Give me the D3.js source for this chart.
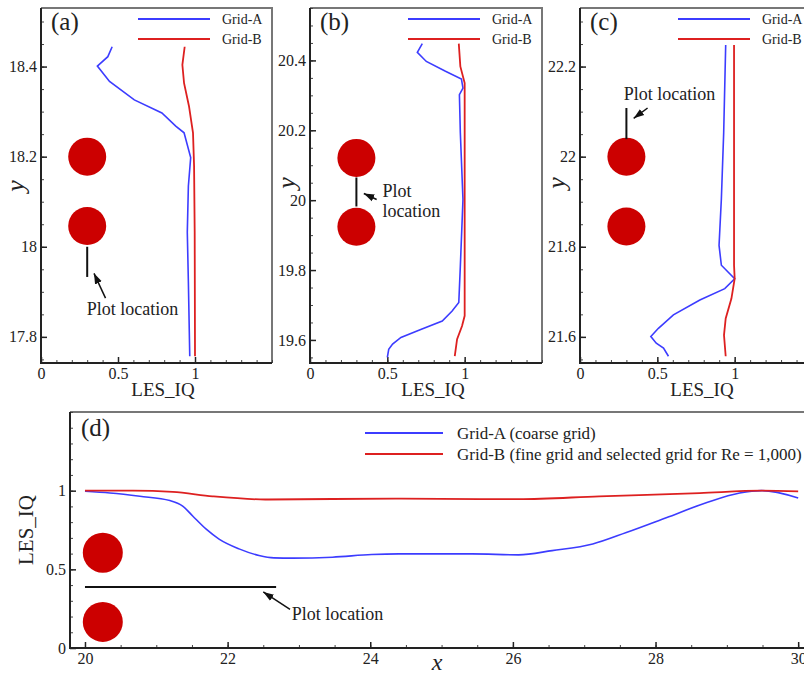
<!DOCTYPE html>
<html><head><meta charset="utf-8">
<script src="https://cdn.jsdelivr.net/npm/d3@7"></script>
<style>html,body{margin:0;padding:0;background:#fff}svg{display:block}text{font-family:"Liberation Serif","Times New Roman",serif;fill:#222}</style>
</head><body><svg id="c" width="804" height="677"></svg>
<script>
// ---------- data ----------
const seriesNames = ["Grid-A", "Grid-B"];
const legendD = ["Grid-A (coarse grid)", "Grid-B (fine grid and selected grid for Re = 1,000)"];

// panel (a): [LES_IQ, y]
const aGridA = [[0.462,18.444],[0.434,18.422],[0.366,18.401],[0.445,18.367],[0.606,18.326],[0.785,18.297],[0.875,18.268],[0.929,18.253],[0.972,18.198],[0.957,18.135],[0.950,18.032],[0.957,17.922],[0.966,17.757]];
const aGridB = [[0.933,18.444],[0.918,18.404],[0.929,18.363],[0.961,18.312],[0.987,18.253],[0.994,18.179],[0.998,18.032],[1.0,17.757]];
// panel (b)
const bGridA = [[0.726,20.448],[0.694,20.423],[0.752,20.397],[0.876,20.369],[0.979,20.347],[0.989,20.321],[0.966,20.302],[0.972,20.193],[0.989,20.002],[0.972,19.811],[0.962,19.707],[0.919,19.683],[0.855,19.654],[0.716,19.630],[0.588,19.607],[0.534,19.588],[0.509,19.573],[0.500,19.550]];
const bGridB = [[0.962,20.448],[0.972,20.383],[1.0,20.335],[1.0,20.0],[1.0,19.669],[0.983,19.640],[0.951,19.602],[0.936,19.554]];
// panel (c)
const cGridA = [[0.942,22.248],[0.929,22.053],[0.914,21.906],[0.899,21.803],[0.914,21.759],[1.0,21.729],[0.936,21.707],[0.775,21.682],[0.604,21.649],[0.507,21.619],[0.458,21.601],[0.493,21.586],[0.540,21.575],[0.572,21.557]];
const cGridB = [[0.996,22.248],[0.996,21.759],[1.0,21.729],[0.979,21.685],[0.942,21.641],[0.931,21.604],[0.942,21.557]];
// panel (d): [x, LES_IQ]
const dGridA = [[20,0.996],[20.35,0.985],[20.77,0.964],[21.19,0.937],[21.37,0.902],[21.51,0.839],[21.70,0.755],[21.88,0.692],[22.16,0.630],[22.44,0.588],[22.65,0.573],[22.91,0.571],[23.47,0.577],[24.02,0.594],[24.40,0.598],[25.43,0.598],[26.08,0.592],[26.55,0.619],[27.12,0.661],[27.59,0.734],[28.15,0.828],[28.71,0.923],[29.18,0.985],[29.49,1.0],[30.0,0.954]];
const dGridB = [[20,1.0],[20.67,1.0],[21.23,0.992],[21.79,0.964],[22.53,0.944],[24.40,0.950],[25.57,0.946],[26.08,0.946],[27.21,0.964],[28.62,0.985],[29.49,1.0],[30.0,0.996]];

// tick labels
const xTicksABC = [0, 0.5, 1];
const yTicksA = [17.8, 18, 18.2, 18.4];
const yTicksB = [19.6, 19.8, 20, 20.2, 20.4];
const yTicksC = [21.6, 21.8, 22, 22.2];
const xTicksD = [20, 22, 24, 26, 28, 30];
const yTicksD = [0, 0.5, 1];

// cylinders and plot-location markers (data coords)
const cylA = [[0.3,18.2],[0.3,18.046]];
const cylB = [[0.3,20.121],[0.3,19.924]];
const cylC = [[0.3,22.0],[0.3,21.845]];
const cylD = [[20.25,0.606],[20.25,0.166]];
const locA = {line:[[0.3,18.0],[0.3,17.933]], arrow:[[0.419,17.886],[0.344,17.941]], text:[[0.297,17.848,"Plot location"]]};
const locB = {line:[[0.3,20.065],[0.3,19.982]], arrow:[[0.431,20.002],[0.348,20.019]], text:[[0.468,20.008,"Plot"],[0.468,19.953,"location"]]};
const locC = {line:[[0.3,22.108],[0.3,22.039]], arrow:[[0.437,22.108],[0.347,22.085]], text:[[0.283,22.126,"Plot location"]]};
const locD = {line:[[20,0.388],[22.68,0.388]], arrow:[[22.875,0.245],[22.5,0.356]], text:[[22.9,0.178,"Plot location"]]};

// ---------- drawing ----------
const svg = d3.select("#c");
const BLUE = "#3c3cff", RED = "#dd2020", CYL = "#cc0000";
const defs = svg.append("defs");
defs.append("marker").attr("id","arr").attr("viewBox","0 0 10 10").attr("refX",10).attr("refY",5)
  .attr("markerWidth",7).attr("markerHeight",7).attr("orient","auto-start-reverse")
  .append("path").attr("d","M0,1.5 L10,5 L0,8.5 Z").attr("fill","#111");

function range(a,b,s){const r=[];for(let v=a;v<=b+1e-9;v+=s)r.push(+v.toFixed(4));return r;}

function panel(o){
  const g = svg.append("g");
  const x = d3.scaleLinear().domain(o.xd).range(o.xr);
  const y = d3.scaleLinear().domain(o.yd).range(o.yr);
  const id = "clip"+o.name;
  defs.append("clipPath").attr("id",id).append("rect")
    .attr("x",o.xr[0]).attr("y",o.yr[1]).attr("width",o.xr[1]-o.xr[0]).attr("height",o.yr[0]-o.yr[1]);
  g.append("path").attr("d",`M${o.xr[0]},${o.yr[1]}H${o.xr[1]}V${o.yr[0]}`).attr("fill","none").attr("stroke","#777").attr("stroke-width",2);
  const xa = d3.axisBottom(x).tickValues(o.xminor).tickSize(-3).tickFormat("");
  g.append("g").attr("transform",`translate(0,${o.yr[0]})`).call(xa).call(s=>{s.select(".domain").remove();s.selectAll("line").attr("stroke","#444");});
  const xM = d3.axisBottom(x).tickValues(o.xt).tickSize(-6).tickPadding(5).tickFormat(d3.format("~g"));
  g.append("g").attr("transform",`translate(0,${o.yr[0]})`).call(xM).call(s=>{s.select(".domain").remove();
    s.selectAll("line").attr("stroke","#222").attr("stroke-width",1.5);
    s.selectAll("text").attr("font-size",16).style("font-family","Liberation Serif").attr("fill","#222");});
  const ya = d3.axisLeft(y).tickValues(o.yminor).tickSize(-3).tickFormat("");
  g.append("g").attr("transform",`translate(${o.xr[0]},0)`).call(ya).call(s=>{s.select(".domain").remove();s.selectAll("line").attr("stroke","#444");});
  const yM = d3.axisLeft(y).tickValues(o.yt).tickSize(-6).tickPadding(4).tickFormat(d3.format("~g"));
  g.append("g").attr("transform",`translate(${o.xr[0]},0)`).call(yM).call(s=>{s.select(".domain").remove();
    s.selectAll("line").attr("stroke","#222").attr("stroke-width",1.5);
    s.selectAll("text").attr("font-size",16).style("font-family","Liberation Serif").attr("fill","#222");});
  g.append("path").attr("d",`M${o.xr[0]},${o.yr[1]}V${o.yr[0]}H${o.xr[1]}`).attr("fill","none").attr("stroke","#222").attr("stroke-width",2);

  const inner = g.append("g").attr("clip-path",`url(#${id})`);
  inner.selectAll("circle.cyl").data(o.cyl).join("circle").attr("cx",d=>x(d[0])).attr("cy",d=>y(d[1])).attr("r",o.r).attr("fill",CYL);
  const ln = d3.line().x(d=>x(d[0])).y(d=>y(d[1]));
  inner.append("path").attr("d",ln(o.loc.line)).attr("stroke","#111").attr("stroke-width",2).attr("fill","none");
  inner.append("path").attr("d",ln(o.loc.arrow)).attr("stroke","#111").attr("stroke-width",1.5).attr("fill","none").attr("marker-end","url(#arr)");
  o.loc.text.forEach(t=>inner.append("text").attr("x",x(t[0])).attr("y",y(t[1])).attr("font-size",18).text(t[2]));
  const L2 = d3.line().x(d=>x(d[0])).y(d=>y(d[1])).curve(o.vertical ? d3.curveLinear : d3.curveMonotoneX);
  inner.append("path").attr("d",L2(o.A)).attr("fill","none").attr("stroke",BLUE).attr("stroke-width",1.6);
  inner.append("path").attr("d",L2(o.B)).attr("fill","none").attr("stroke",RED).attr("stroke-width",1.8);
  const L = o.leg;
  o.legText.forEach((t,i)=>{
    const yy = L.y + i*L.dy;
    g.append("line").attr("x1",L.x1).attr("x2",L.x2).attr("y1",yy).attr("y2",yy).attr("stroke",i?RED:BLUE).attr("stroke-width",2);
    g.append("text").attr("x",L.tx).attr("y",yy+L.fs*0.35).attr("font-size",L.fs).text(t);
  });
  g.append("text").attr("x",o.lab[0]).attr("y",o.lab[1]).attr("font-size",25).text(o.label);
  g.append("text").attr("x",o.xt_pos[0]).attr("y",o.xt_pos[1]).attr("text-anchor","middle")
    .attr("font-size",o.xtitleSize).attr("font-style",o.xtitleItalic?"italic":"normal").text(o.xtitle);
  g.append("text").attr("transform",`translate(${o.yt_pos[0]},${o.yt_pos[1]}) rotate(-90)`).attr("text-anchor","middle")
    .attr("font-size",o.ytitleSize).attr("font-style",o.ytitleItalic?"italic":"normal").text(o.ytitle);
}

const common = {xd:[0,1.5], xt:xTicksABC, xminor:range(0,1.5,0.1), r:19, legText:seriesNames, vertical:true,
  xtitle:"LES_IQ", xtitleSize:19, ytitle:"y", ytitleSize:26, ytitleItalic:true};
panel(Object.assign({}, common, {name:"a", xr:[41,272], yd:[17.742,18.53], yr:[363,8], yt:yTicksA, yminor:range(17.75,18.5,0.05),
  A:aGridA, B:aGridB, cyl:cylA, loc:locA, leg:{x1:138,x2:210,tx:222,y:19,dy:20,fs:14}, lab:[51,30], label:"(a)",
  xt_pos:[163,396], yt_pos:[24,186]}));
panel(Object.assign({}, common, {name:"b", xr:[310,542], yd:[19.534,20.55], yr:[363,8], yt:yTicksB, yminor:range(19.55,20.55,0.05),
  A:bGridA, B:bGridB, cyl:cylB, loc:locB, leg:{x1:408,x2:480,tx:492,y:19,dy:20,fs:14}, lab:[320,30], label:"(b)",
  xt_pos:[433,396], yt_pos:[295,183]}));
panel(Object.assign({}, common, {name:"c", xr:[580,812], yd:[21.542,22.33], yr:[363,8], yt:yTicksC, yminor:range(21.55,22.3,0.05),
  A:cGridA, B:cGridB, cyl:cylC, loc:locC, leg:{x1:678,x2:750,tx:762,y:19,dy:20,fs:14}, lab:[590,30], label:"(c)",
  xt_pos:[702,396], yt_pos:[565,183]}));
panel({name:"d", xd:[19.79,30.25], xr:[70,816], yd:[0,1.5], yr:[648,412], xt:xTicksD, xminor:range(20,30,0.5), yt:yTicksD, yminor:range(0,1.5,0.1),
  r:20, A:dGridA, B:dGridB, cyl:cylD, loc:locD, legText:legendD, leg:{x1:365,x2:443,tx:457,y:433,dy:21,fs:17}, vertical:false,
  lab:[81,436], label:"(d)", xtitle:"x", xtitleSize:24, xtitleItalic:true, xt_pos:[437,670], ytitle:"LES_IQ", ytitleSize:21, yt_pos:[33,530]});
</script></body></html>
